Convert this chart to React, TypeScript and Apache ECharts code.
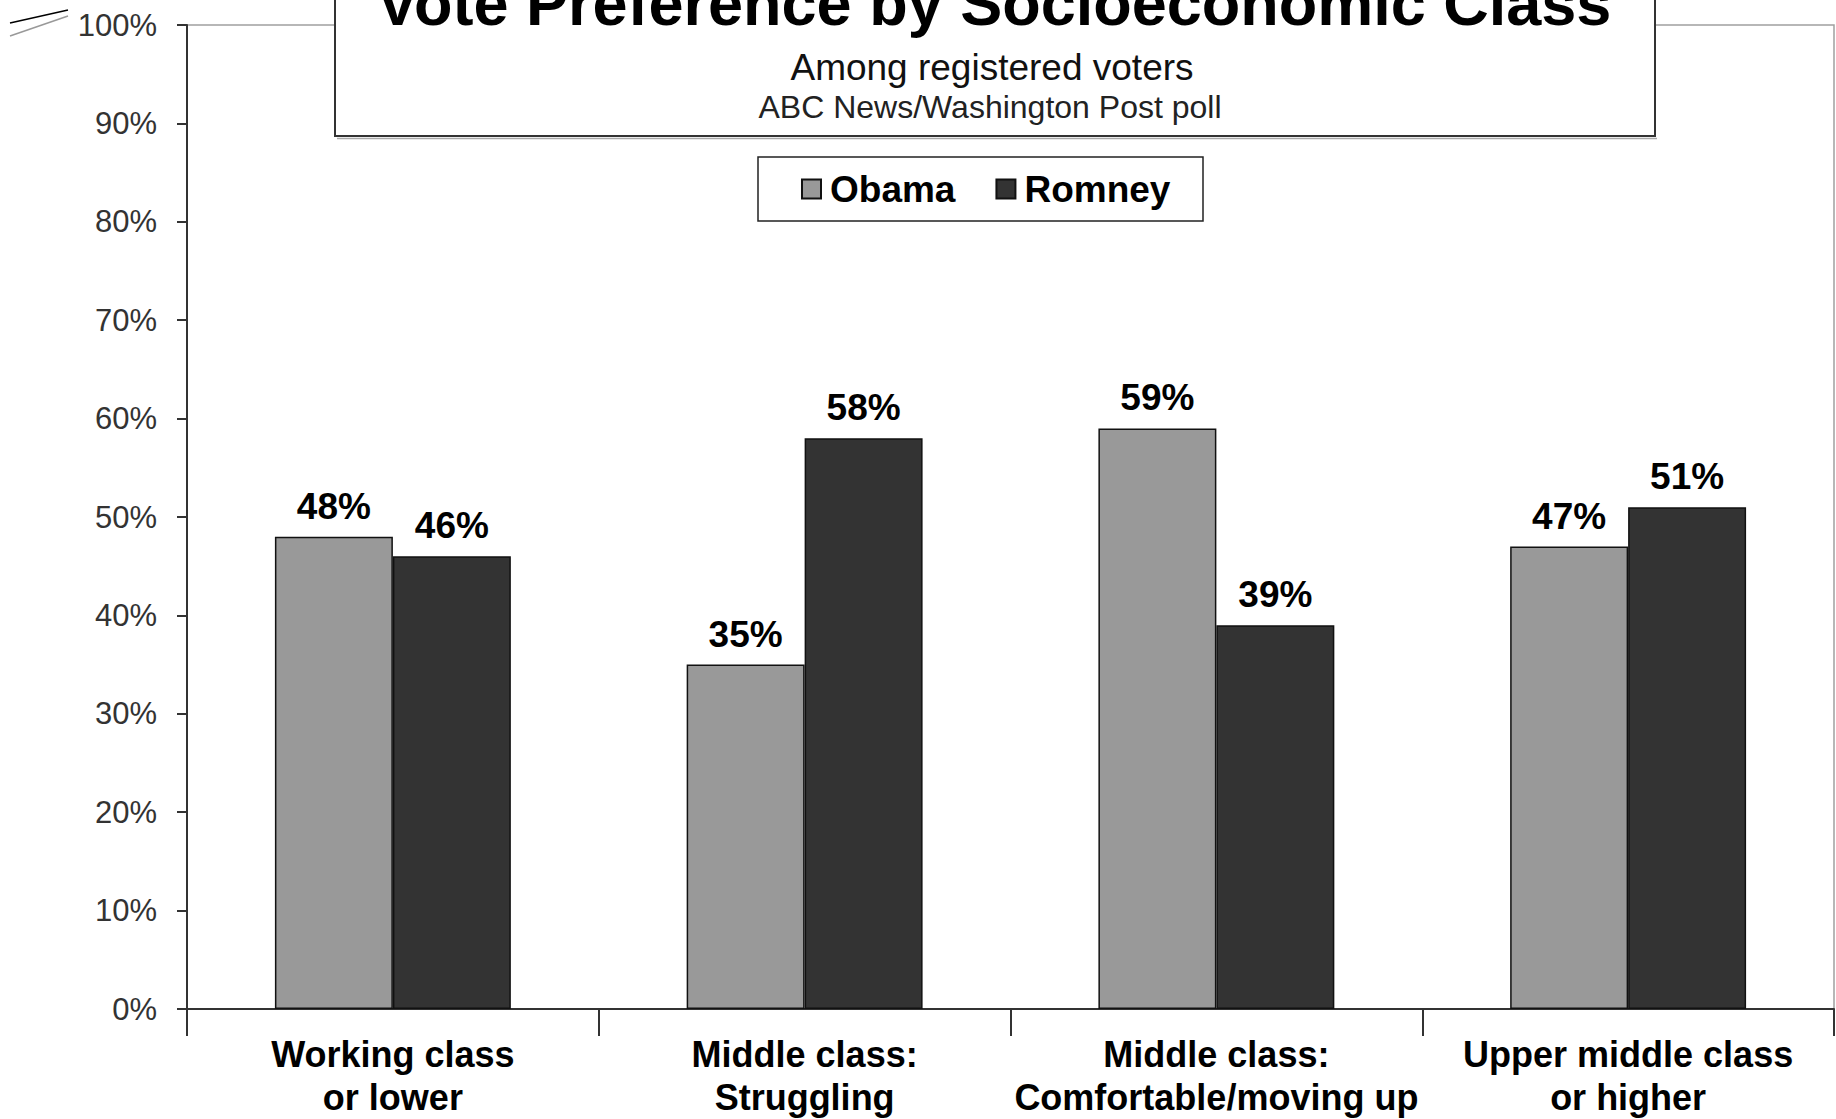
import React, { useEffect, useRef } from "react";
import * as echarts from "echarts";

const categories = [
  "Working class\nor lower",
  "Middle class:\nStruggling",
  "Middle class:\nComfortable/moving up",
  "Upper middle class\nor higher",
];
const obamaValues = [48, 35, 59, 47];
const romneyValues = [46, 58, 39, 51];
const seriesNames = ["Obama", "Romney"];
const titleText = "Vote Preference by Socioeconomic Class";
const subtitleText = "Among registered voters";
const sourceText = "ABC News/Washington Post poll";

const FONT = "'Liberation Sans', Arial, sans-serif";

export default function App() {
  const ref = useRef<HTMLDivElement>(null);

  useEffect(() => {
    if (!ref.current) return;
    const chart = echarts.init(ref.current, null, { renderer: "svg" });
    const labelStyle = {
      show: true,
      position: "top",
      distance: 12,
      fontSize: 37,
      fontWeight: "bold",
      color: "#000",
      fontFamily: FONT,
      formatter: "{c}%",
    };
    chart.setOption({
      animation: false,
      backgroundColor: "#fff",
      textStyle: { fontFamily: FONT },
      grid: {
        left: 187,
        right: 2,
        top: 25,
        bottom: 110,
        show: true,
        borderColor: "#a0a0a0",
        borderWidth: 1.5,
        backgroundColor: "transparent",
      },
      legend: {
        z: 300,
        zlevel: 1,
        left: 801,
        top: 169,
        padding: 0,
        itemWidth: 19,
        itemHeight: 19,
        itemGap: 40,
        icon: "rect",
        data: seriesNames,
        textStyle: {
          fontSize: 37,
          fontWeight: "bold",
          color: "#000",
          fontFamily: FONT,
          lineHeight: 40,
          padding: [0, 0, 0, 4],
        },
      },
      xAxis: {
        type: "category",
        data: categories,
        axisLine: { show: true, lineStyle: { color: "#333", width: 2 } },
        axisTick: { show: true, length: 27, interval: 0, lineStyle: { color: "#333", width: 2 } },
        axisLabel: {
          interval: 0,
          fontSize: 36,
          fontWeight: "bold",
          lineHeight: 43,
          color: "#000",
          margin: 24,
          fontFamily: FONT,
        },
        splitLine: { show: false },
      },
      yAxis: {
        type: "value",
        min: 0,
        max: 100,
        interval: 10,
        axisLine: { show: true, lineStyle: { color: "#333", width: 2 } },
        axisTick: { show: true, length: 10, lineStyle: { color: "#333", width: 2 } },
        axisLabel: {
          formatter: "{value}%",
          fontSize: 31,
          color: "#333",
          margin: 30,
          fontFamily: FONT,
        },
        splitLine: { show: false },
      },
      series: [
        {
          name: seriesNames[0],
          type: "bar",
          data: obamaValues,
          barGap: "0%",
          barCategoryGap: "42.7%",
          itemStyle: { color: "#999999", borderColor: "#111", borderWidth: 1.5 },
          label: labelStyle,
        },
        {
          name: seriesNames[1],
          type: "bar",
          data: romneyValues,
          barGap: "0%",
          barCategoryGap: "42.7%",
          itemStyle: { color: "#333333", borderColor: "#111", borderWidth: 1.5 },
          label: labelStyle,
        },
      ],
      graphic: [
        {
          type: "line",
          z: 100,
          shape: { x1: 10, y1: 23, x2: 68, y2: 10 },
          style: { stroke: "#000", lineWidth: 1.5 },
        },
        {
          type: "line",
          z: 100,
          shape: { x1: 10, y1: 36, x2: 68, y2: 16 },
          style: { stroke: "#999", lineWidth: 1.5 },
        },
        {
          type: "line",
          z: 100,
          shape: { x1: 337, y1: 138.5, x2: 1657, y2: 138.5 },
          style: { stroke: "#aaa", lineWidth: 1.5 },
        },
        {
          type: "rect",
          z: 100,
          shape: { x: 335, y: -30, width: 1320, height: 166 },
          style: { fill: "#fff", stroke: "#333", lineWidth: 2 },
        },
        {
          type: "text",
          z: 101,
          x: 994,
          y: 3,
          style: {
            text: titleText,
            fontSize: 63,
            fontWeight: "bold",
            fontFamily: FONT,
            fill: "#000",
            align: "center",
            verticalAlign: "middle",
          },
        },
        {
          type: "text",
          z: 101,
          x: 992,
          y: 67,
          style: {
            text: subtitleText,
            fontSize: 37,
            fontFamily: FONT,
            fill: "#111",
            align: "center",
            verticalAlign: "middle",
          },
        },
        {
          type: "text",
          z: 101,
          x: 990,
          y: 107,
          style: {
            text: sourceText,
            fontSize: 32,
            fontFamily: FONT,
            fill: "#222",
            align: "center",
            verticalAlign: "middle",
          },
        },
        {
          type: "rect",
          z: 100,
          shape: { x: 758, y: 157, width: 445, height: 64 },
          style: { fill: "#fff", stroke: "#222", lineWidth: 1.5 },
        },
      ],
    });
    return () => chart.dispose();
  }, []);

  return (
    <div
      ref={ref}
      style={{ position: "fixed", left: 0, top: 0, width: 1836, height: 1119 }}
    />
  );
}
